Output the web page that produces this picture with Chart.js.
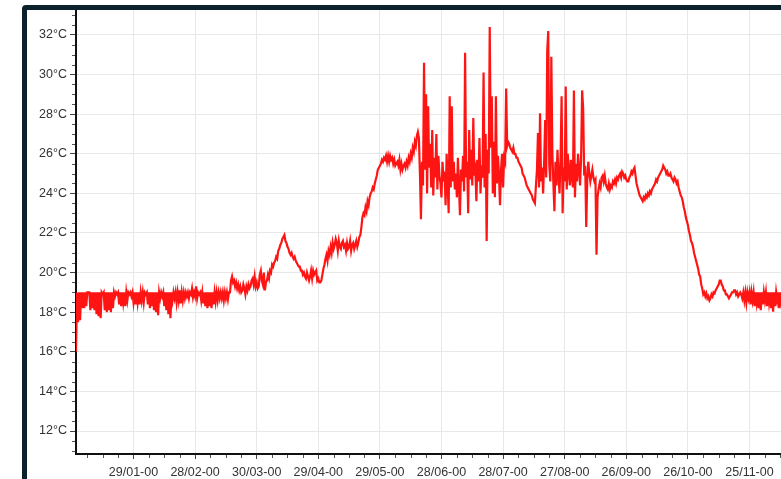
<!DOCTYPE html>
<html>
<head>
<meta charset="utf-8">
<script src="https://cdn.jsdelivr.net/npm/chart.js@4.4.1/dist/chart.umd.min.js"></script>
<style>
  html, body { margin: 0; padding: 0; background: #fff; overflow: hidden; width: 781px; height: 479px; }
  #frame { position: absolute; left: 22px; top: 5px; border: 5px solid #0d212c; border-radius: 4px; width: 820px; height: 500px; background: #fff; }
  canvas { display: block; }
</style>
</head>
<body>
<div id="frame"><canvas id="tempChart" width="820" height="500"></canvas></div>
<script>
// readings every half day, one array per month (year 2000)
const jan = [
  16.0, 19.0, 17.5, 19.0, 17.6, 19.0, 18.2, 19.0, 18.2, 19.0,
  18.3, 19.0, 19.0, 19.0, 18.1, 19.0, 18.2, 19.0, 18.1, 19.0,
  17.9, 19.0, 17.8, 19.0, 17.7, 19.0, 18.9, 19.0, 18.1, 19.0,
  18.0, 19.0, 18.1, 19.0, 18.0, 19.0, 18.2, 19.0, 18.8, 19.0,
  18.9, 19.0, 18.4, 19.0, 18.3, 19.0, 18.5, 19.0, 18.3, 19.0,
  18.6, 19.0, 18.9, 19.0, 18.8, 19.0, 18.5, 19.0, 18.4, 19.0,
  18.5, 19.0
];
const feb = [
  18.4, 19.0, 18.6, 19.0, 18.5, 19.0, 18.9, 19.0, 18.4, 19.0,
  18.2, 19.0, 18.3, 19.0, 18.1, 19.0, 18.0, 19.0, 17.85, 19.0,
  18.7, 19.0, 18.8, 19.0, 18.3, 19.0, 18.1, 19.0, 17.9, 19.0,
  17.7, 19.0, 18.6, 19.0, 18.7, 19.0, 18.5, 19.0, 18.6, 19.1,
  18.45, 19.0, 18.6, 19.0, 18.7, 19.0, 18.8, 19.0, 18.7, 19.0,
  18.9, 19.2, 18.75, 19.0, 18.8, 19.3, 18.7, 19.0
];
const mar = [
  18.9, 19.0, 18.6, 19.0, 18.45, 19.0, 18.3, 19.0, 18.2, 19.0,
  18.3, 19.0, 18.2, 19.0, 18.4, 19.0, 18.55, 19.0, 18.6, 19.0,
  18.7, 19.0, 18.7, 19.0, 18.6, 19.0, 18.7, 19.0, 18.65, 19.0,
  19.0, 19.6, 19.8, 19.5, 19.6, 19.3, 19.5, 19.2, 19.4, 19.1,
  19.3, 19.0, 19.1, 19.4, 19.2, 18.9, 19.3, 19.1, 19.4, 19.2,
  19.3, 19.6, 19.7, 19.4, 19.8, 19.3, 19.5, 19.2, 19.3, 19.9,
  20.1, 19.6
];
const apr = [
  19.4, 20.0, 19.1, 19.5, 19.6, 19.9, 19.7, 20.1, 20.0, 20.4,
  20.3, 20.5, 20.6, 20.8, 20.7, 21.1, 21.2, 21.4, 21.5, 21.7,
  21.8, 21.9, 21.6, 21.5, 21.3, 21.2, 21.0, 20.9, 21.0, 20.8,
  20.7, 20.8, 20.6, 20.5, 20.4, 20.3, 20.3, 20.1, 20.1, 19.9,
  20.0, 19.8, 19.7, 20.0, 19.8, 19.6, 19.8, 20.1, 19.7, 20.1,
  19.9, 20.0, 20.1, 19.6, 19.7, 19.5, 19.5, 19.6, 19.9, 20.2
];
const may = [
  20.4, 20.7, 20.9, 20.6, 21.1, 20.9, 21.3, 21.0, 21.5, 21.2,
  21.4, 21.7, 21.5, 21.1, 21.6, 21.3, 21.2, 21.5, 21.6, 21.3,
  21.4, 21.1, 21.5, 21.2, 21.3, 21.6, 21.1, 21.4, 21.5, 21.2,
  21.4, 21.6, 21.3, 21.5, 21.8, 21.9, 22.3, 22.8, 23.0, 22.9,
  23.3, 23.1, 23.6, 23.4, 23.8, 24.0, 24.1, 24.3, 24.2, 24.5,
  24.7, 24.9, 25.2, 25.3, 25.4, 25.5, 25.7, 25.6, 25.8, 25.7,
  25.9, 25.6
];
const jun = [
  25.9, 25.6, 25.9, 25.7, 25.8, 25.5, 25.7, 25.4, 25.5, 25.6,
  25.4, 25.7, 25.2, 25.5, 25.2, 25.4, 25.5, 25.3, 25.6, 25.4,
  25.8, 25.6, 26.0, 25.8, 26.3, 26.1, 26.6, 26.4, 26.9, 27.1,
  26.8, 25.0, 22.7, 25.6, 24.4, 30.6, 25.2, 29.0, 24.0, 28.4,
  25.3, 26.5, 24.3, 27.2, 23.9, 25.8, 24.8, 27.0, 24.2, 25.9,
  24.9, 24.5, 23.8, 25.6, 24.6, 25.1, 23.4, 26.0, 24.5, 23.0
];
const jul = [
  28.9, 24.3, 28.4, 24.6, 25.6, 24.2, 25.0, 23.8, 25.8, 24.4,
  22.9, 25.2, 24.6, 25.9, 24.1, 31.1, 24.8, 25.6, 23.0, 27.2,
  24.7, 26.2, 24.4, 27.8, 24.9, 25.2, 23.6, 25.7, 24.6, 26.8,
  24.0, 25.4, 24.8, 30.1, 24.3, 27.0, 21.6, 26.2, 25.0, 32.4,
  26.3, 28.9, 24.0, 26.6, 23.8, 28.9, 24.5, 25.9, 24.9, 23.4,
  25.2, 26.0, 24.3, 25.8, 25.6, 29.3, 26.4, 26.6, 26.5, 26.3,
  26.2, 26.1
];
const aug = [
  26.3, 26.0, 26.0, 25.8, 25.8, 25.6, 25.5, 25.4, 25.3, 25.0,
  24.9, 24.8, 24.6, 24.4, 24.3, 24.2, 24.1, 24.0, 23.9, 23.7,
  23.6, 23.5, 24.4, 25.2, 27.05, 24.3, 28.05, 24.6, 25.3, 24.0,
  25.6, 27.7, 24.8, 31.2, 32.2, 25.4, 24.6, 30.9, 26.0, 24.5,
  23.1, 25.6, 24.4, 26.2, 24.9, 24.0, 25.8, 28.9, 23.0, 25.3,
  24.6, 29.4, 24.2, 26.0, 25.1, 24.4, 25.7, 24.8, 24.3, 29.2,
  23.8, 25.5
];
const sep = [
  24.6, 26.0, 25.2, 24.4, 25.8, 29.2, 28.3, 24.9, 25.4, 22.3,
  24.7, 25.6, 25.0, 24.6, 24.9, 25.2, 24.8, 24.6, 24.7, 20.9,
  23.8, 24.2, 24.5, 24.3, 24.8, 24.9, 24.6, 24.9, 24.5, 24.3,
  24.2, 24.5, 24.2, 24.4, 24.3, 24.6, 24.5, 24.7, 24.5, 24.8,
  24.7, 24.9, 25.0, 24.8, 25.1, 25.0, 24.8, 24.9, 24.7, 24.6,
  24.6, 24.8, 24.9, 25.1, 25.0, 25.2, 25.3, 24.9, 24.5, 24.3
];
const oct = [
  24.1, 23.9, 23.8, 23.7, 23.6, 23.8, 23.7, 23.9, 23.8, 24.0,
  23.9, 24.1, 24.0, 24.2, 24.3, 24.4, 24.5, 24.7, 24.6, 24.8,
  24.9, 25.0, 25.1, 25.2, 25.4, 25.3, 25.2, 25.0, 25.1, 24.9,
  24.9, 25.0, 24.8, 24.7, 24.6, 24.8, 24.7, 24.5, 24.6, 24.3,
  24.1, 23.9, 23.8, 23.6, 23.3, 23.1, 22.8, 22.6, 22.4, 22.1,
  21.9, 21.6, 21.5, 21.3, 21.0, 20.8, 20.6, 20.4, 20.2, 19.9,
  19.8, 19.4
];
const nov = [
  19.2, 18.9, 19.0, 18.8, 18.95, 18.7, 18.8, 18.6, 18.7, 18.9,
  18.8, 19.0, 18.95, 19.1, 19.2, 19.3, 19.4, 19.6, 19.6, 19.4,
  19.3, 19.1, 19.1, 18.9, 18.9, 18.8, 18.7, 18.8, 18.9, 19.0,
  19.0, 19.1, 19.1, 18.9, 19.0, 18.8, 18.9, 19.0, 18.9, 18.7,
  19.0, 18.6, 19.0, 18.5, 19.0, 18.7, 19.0, 18.4, 19.0, 18.6,
  19.0, 18.3, 19.0, 18.5, 19.0, 18.2, 19.0, 18.1, 19.0, 18.4
];
const dec = [
  19.0, 18.6, 19.0, 18.3, 19.0, 18.5, 19.0, 18.2, 19.0, 18.03,
  19.0, 18.3, 19.0, 18.6, 19.0, 18.2, 19.0, 18.5, 19.0, 18.3,
  19.0, 18.6, 19.0, 18.4
];

const monthDays = [31, 29, 31, 30, 31, 30, 31, 31, 30, 31, 30, 31];
const tickDays = [28, 58, 88, 118, 148, 178, 208, 238, 268, 298, 328];
const tickLabels = ['29/01-00', '28/02-00', '30/03-00', '29/04-00', '29/05-00', '28/06-00',
                    '28/07-00', '27/08-00', '26/09-00', '26/10-00', '25/11-00'];
const yTicks = [12, 14, 16, 18, 20, 22, 24, 26, 28, 30, 32];

// x = days since 1 Jan, one reading every half day
const points = [];
let start = 0;
[jan, feb, mar, apr, may, jun, jul, aug, sep, oct, nov, dec].forEach((m, k) => {
  m.forEach((t, i) => points.push({ x: start + i * 0.5, y: t }));
  start += monthDays[k];
});

const font = { family: 'Liberation Sans', size: 12.5 };

// small unlabelled ticks between the labelled ones
const minorTicks = {
  id: 'minorTicks',
  afterDraw(chart) {
    const { ctx, chartArea, scales: { x, y } } = chart;
    ctx.save();
    ctx.strokeStyle = '#555';
    ctx.lineWidth = 1;
    ctx.beginPath();
    for (let v = 11; v <= 33; v += 0.5) {
      if (v % 2 === 0) continue;
      const py = Math.round(y.getPixelForValue(v)) + 0.5;
      ctx.moveTo(chartArea.left - 4, py);
      ctx.lineTo(chartArea.left - 1, py);
    }
    for (let d = 5.5; d <= 366; d += 7.5) {
      if (tickDays.includes(d)) continue;
      const px = Math.round(x.getPixelForValue(d)) + 0.5;
      ctx.moveTo(px, chartArea.bottom + 1);
      ctx.lineTo(px, chartArea.bottom + 4);
    }
    ctx.stroke();
    ctx.restore();
  }
};

new Chart(document.getElementById('tempChart'), {
  type: 'line',
  data: {
    datasets: [{
      data: points,
      borderColor: '#ff1414',
      borderWidth: 2.2,
      pointRadius: 0,
      tension: 0,
      fill: false
    }]
  },
  options: {
    responsive: false,
    animation: false,
    devicePixelRatio: 1,
    layout: { padding: { top: 0, right: 19.5, bottom: 0, left: 0 } },
    plugins: { legend: { display: false }, tooltip: { enabled: false } },
    scales: {
      x: {
        type: 'linear',
        min: 0,
        max: 366,
        afterBuildTicks: s => { s.ticks = tickDays.map(v => ({ value: v })); },
        afterFit: s => { s.height = 56; s.paddingLeft = 0; s.paddingRight = 0; },
        ticks: {
          autoSkip: false,
          maxRotation: 0,
          color: '#333',
          font: font,
          padding: 6,
          callback: v => tickLabels[tickDays.indexOf(v)]
        },
        grid: { color: '#e8e8e8', tickColor: '#444', tickLength: 5 },
        border: { color: '#111', width: 2 }
      },
      y: {
        min: 10.84,
        max: 33.26,
        afterBuildTicks: s => { s.ticks = yTicks.map(v => ({ value: v })); },
        afterFit: s => { s.width = 49; s.paddingTop = 0; s.paddingBottom = 0; },
        ticks: {
          color: '#333',
          font: font,
          padding: 3,
          callback: v => v + '°C'
        },
        grid: { color: '#e8e8e8', tickColor: '#444', tickLength: 6 },
        border: { color: '#111', width: 2 }
      }
    }
  },
  plugins: [minorTicks]
});
</script>
</body>
</html>
